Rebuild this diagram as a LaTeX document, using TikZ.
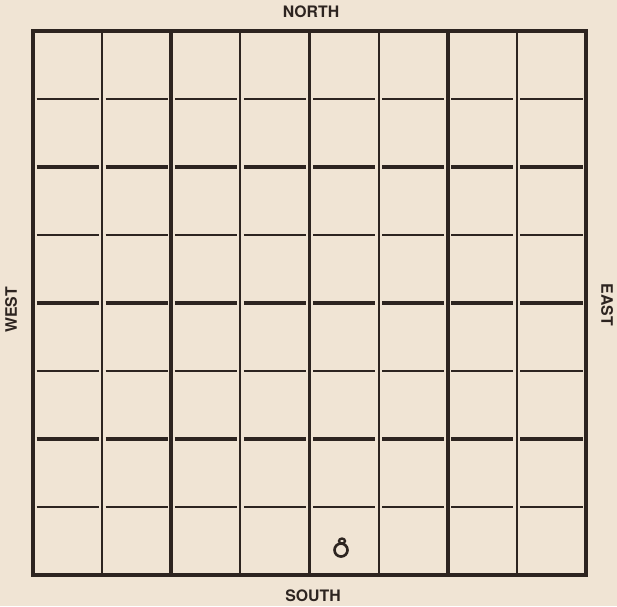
\documentclass[tikz,border=0pt]{standalone}
\usepackage{fontspec}
\setsansfont{TeX Gyre Heros}
\usetikzlibrary{positioning}
\definecolor{paper}{RGB}{240,228,212}
\definecolor{ink}{RGB}{45,36,32}
\tikzset{
  compass/.style={font=\sffamily\bfseries\fontsize{9}{9}\selectfont,text=ink,inner sep=0pt},
  rim/.style={line width=2.2pt,draw=ink},
  heavy/.style={line width=2.2pt,draw=ink},
  light/.style={line width=1.1pt,draw=ink},
  hheavy/.style={line width=2pt,draw=ink},
  hlight/.style={line width=0.9pt,draw=ink},
}
\begin{document}
\begin{tikzpicture}[x=0.02cm,y=-0.02cm]
\fill[paper] (0,0) rectangle (617,606);
\useasboundingbox (0,0) rectangle (617,606);
% board: 8 x 8 squares, every second line heavier
\def\cx{69.125}
\def\cy{68}
\foreach \i [evaluate=\i as \xx using 33+\i*\cx] in {1,...,7} {
  \ifodd\i \def\w{light}\else\def\w{heavy}\fi
  \draw[\w] (\xx,31) -- (\xx,575);
}
% horizontal rules stop short of the vertical ones
\foreach \j [evaluate=\j as \yy using 31+\j*\cy] in {1,...,7} {
  \ifodd\j \def\w{hlight}\else\def\w{hheavy}\fi
  \foreach \k [evaluate=\k as \xa using 33+\k*\cx+3.5,
               evaluate=\k as \xb using 33+(\k+1)*\cx-3.5] in {0,...,7}
    \draw[\w] (\xa,\yy) -- (\xb,\yy);
}
\draw[rim] (33,31) rectangle (586,575);
% the ring on the south edge
\draw[ink,line width=1.5pt] (341,550) circle (6.5);
\draw[ink,line width=1.3pt] (342,541) ellipse (3 and 2.5);
% compass labels
\node[compass] (north) at (311,12) {NORTH};
\node[compass] (south) at (313,596) {SOUTH};
\node[compass,rotate=90] (west) at (11,310) {WEST};
\node[compass,rotate=-90] (east) at (607,305) {EAST};
\end{tikzpicture}
\end{document}
